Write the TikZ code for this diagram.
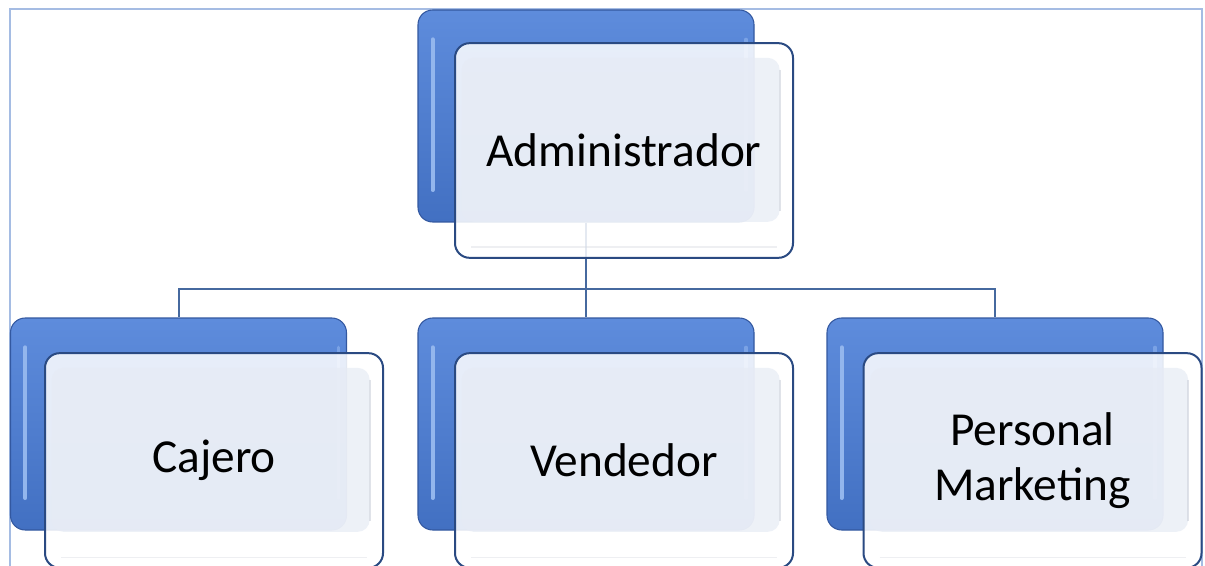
\documentclass[tikz,border=0pt]{standalone}
\usepackage{fontspec}
\setmainfont{Carlito}
\definecolor{btop}{HTML}{5E8CDC}
\definecolor{bbot}{HTML}{4270C2}
\definecolor{bbord}{HTML}{3358A0}
\definecolor{hl}{HTML}{9CBDF0}
\definecolor{fbord}{HTML}{2A4A82}
\definecolor{innerc}{HTML}{E6EBF5}
\definecolor{innerline}{HTML}{D4D8E0}
\definecolor{framec}{HTML}{A5BCE3}
\definecolor{conn}{HTML}{46699F}
\begin{document}
\begin{tikzpicture}[x=0.75pt,y=-0.75pt,
  backbox/.style={rounded corners=11pt, minimum width=252pt, minimum height=159pt,
    inner sep=0pt, draw=bbord, line width=0.8pt, top color=btop, bottom color=bbot,
    path picture={
      \draw[line width=3pt, hl!85!btop, line cap=round]
        ([xshift=11pt,yshift=-22pt]path picture bounding box.north west) --
        ([xshift=11pt,yshift=24pt]path picture bounding box.south west);
      \draw[line width=2.5pt, hl!45!btop, line cap=round]
        ([xshift=-6pt,yshift=-22pt]path picture bounding box.north east) --
        ([xshift=-6pt,yshift=24pt]path picture bounding box.south east);
    }},
  frontbox/.style={rounded corners=11pt, minimum width=253.5pt, minimum height=161pt,
    inner sep=0pt, draw=fbord, line width=1.5pt, fill=white, fill opacity=0.86,
    text opacity=1, font=\fontsize{35.5}{41}\selectfont, align=center,
    path picture={
      \fill[innerc, fill opacity=0.7, rounded corners=9pt]
        ([xshift=5pt,yshift=-11pt]path picture bounding box.north west) rectangle
        ([xshift=-10pt,yshift=-134pt]path picture bounding box.north east);
      \draw[innerline, line width=1.5pt, draw opacity=0.7]
        ([xshift=-10pt,yshift=-20pt]path picture bounding box.north east) --
        ([xshift=-10pt,yshift=-126pt]path picture bounding box.north east);
      \draw[innerline, line width=1pt, draw opacity=0.4]
        ([xshift=12pt,yshift=8pt]path picture bounding box.south west) --
        ([xshift=-12pt,yshift=8pt]path picture bounding box.south east);
    }},
  link/.style={draw=conn, line width=1.5pt},
]
\useasboundingbox (0,0) rectangle (1205,566);
\draw[framec, line width=1pt] (10,9) rectangle (1202,600);

% back boxes
\node[backbox] (adminB) at (586,116) {};
\node[backbox] (cajB) at (178.5,424) {};
\node[backbox] (venB) at (586,424) {};
\node[backbox] (pmB) at (995,424) {};

% connectors
\coordinate (bus) at (586,289);
\draw[link] (adminB.south) -- (adminB.south |- bus);
\draw[link] (adminB.south |- bus) -| (cajB.north);
\draw[link] (adminB.south |- bus) -| (pmB.north);
\draw[link] (adminB.south |- bus) -- (venB.north);

% front boxes
\node[frontbox] (admin) at (624,150.5) {Administrador};
\node[frontbox] (caj) at (214,460.5) {Cajero};
\node[frontbox] (ven) at (624,460.5) {Vendedor};
\node[frontbox] (pm) at (1032.5,460.5) {Personal\\Marketing};
\end{tikzpicture}
\end{document}
